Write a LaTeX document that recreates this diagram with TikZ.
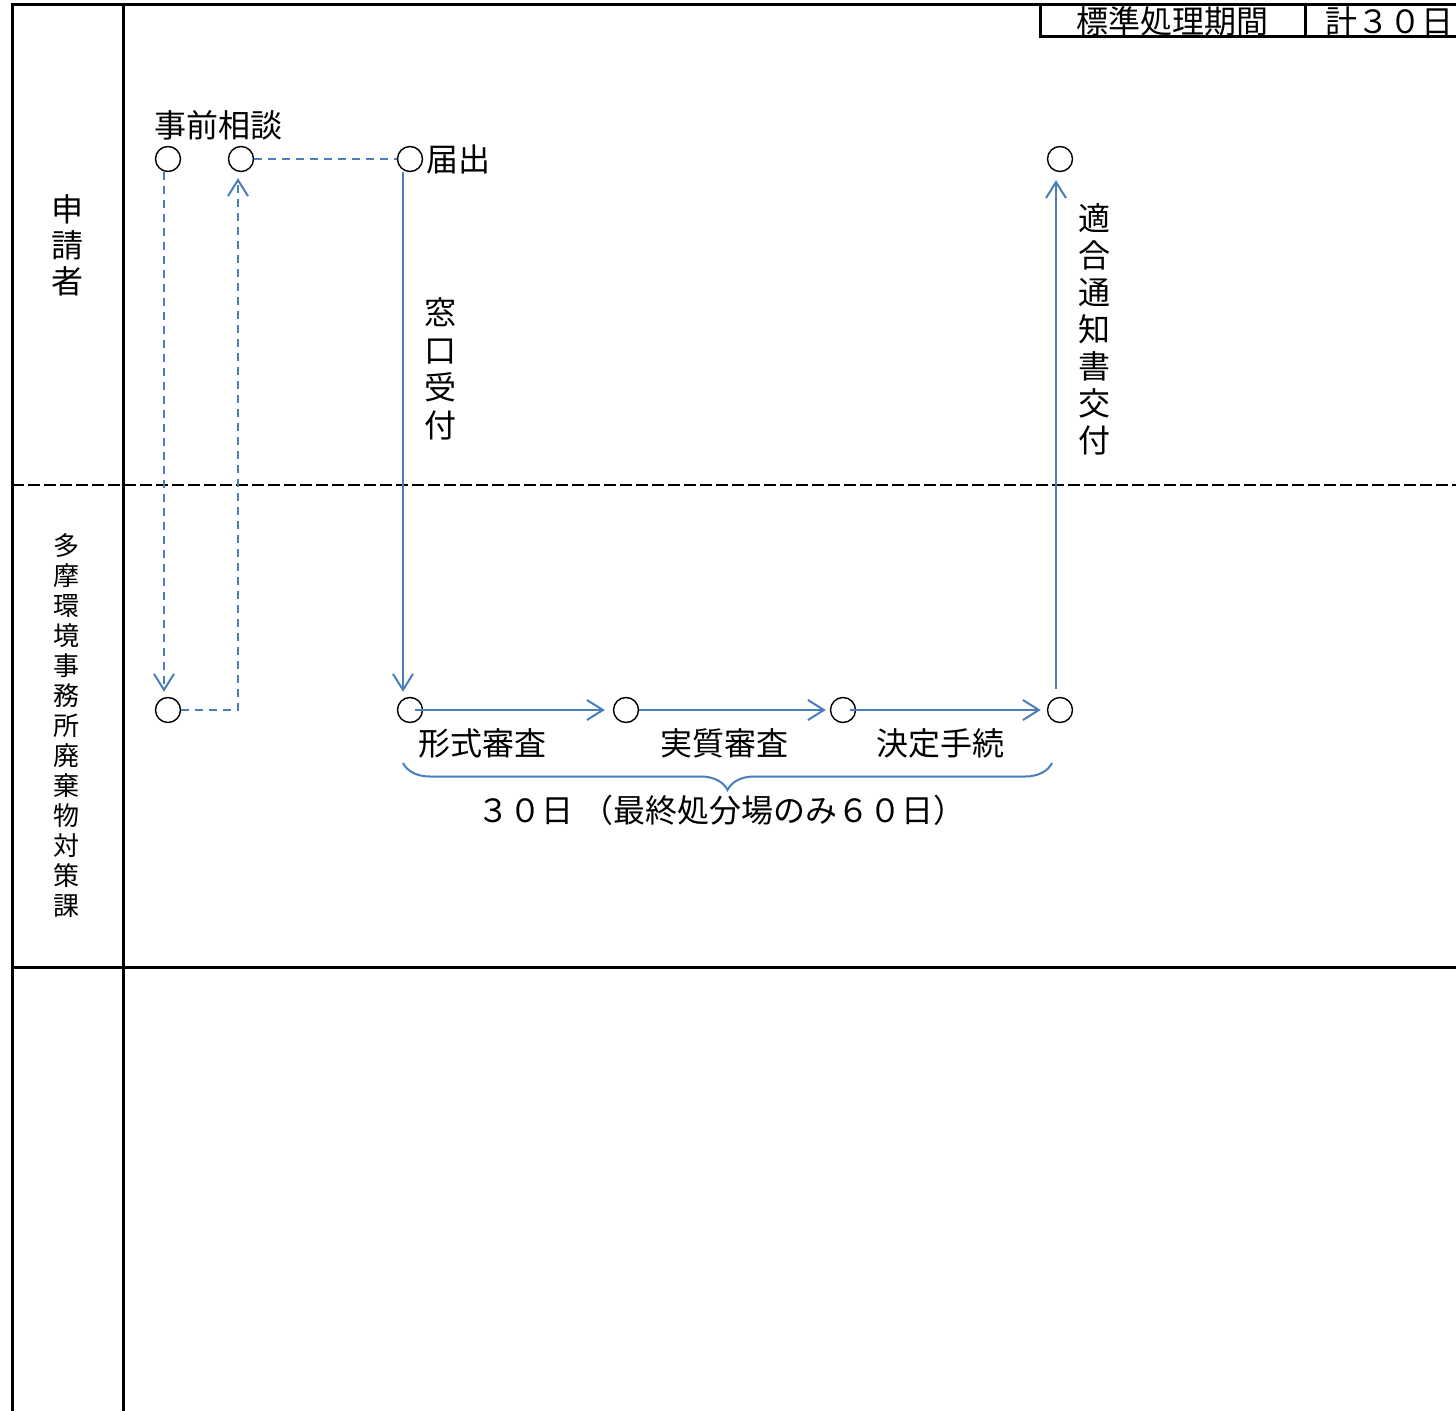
\documentclass[tikz,border=0pt]{standalone}
\usepackage{fontspec}
\newfontfamily\jp{Noto Sans CJK JP}
\usetikzlibrary{arrows.meta,decorations.pathreplacing}
\definecolor{flowblue}{RGB}{74,126,187}
\begin{document}
\begin{tikzpicture}[x=0.5pt,y=-0.5pt,
  frame/.style={line width=1.5pt,black},
  divider/.style={line width=1.2pt,black,dash pattern=on 6pt off 2pt},
  dot/.style={circle,draw=black,line width=0.7pt,minimum size=12.5pt,inner sep=0pt},
  tip/.style={-{Straight Barb[length=8pt,width=10pt]}},
  flow/.style={draw=flowblue,line width=1pt},
  dflow/.style={flow,dash pattern=on 4pt off 3pt},
  lbl/.style={inner sep=0pt,font=\jp\fontsize{16pt}{18pt}\selectfont},
  vlbl/.style={lbl,align=center},
]
\useasboundingbox (0,0) rectangle (1456,1411);
% frame
\draw[frame] (12,1411) -- (12,5) -- (1456,5);
\draw[frame] (123,5) -- (123,1411);
\draw[frame] (12,967) -- (1456,967);
\draw[divider] (12,485) -- (1456,485);
\draw[frame] (1040,5) -- (1040,37) -- (1456,37);
\draw[frame] (1305,5) -- (1305,37);
\node[lbl] (period) at (1172,21) {標準処理期間};
\node[lbl] (total) at (1389,21) {計３０日};
% lane labels
\node[vlbl] (lane1) at (67,245) {申\\請\\者};
\node[vlbl,font=\jp\fontsize{13pt}{15pt}\selectfont] (lane2) at (67,726) {多\\摩\\環\\境\\事\\務\\所\\廃\\棄\\物\\対\\策\\課};
% circles
\node[dot] (a1) at (168,159) {};
\node[dot] (a2) at (241,159) {};
\node[dot] (a3) at (410,159) {};
\node[dot] (a4) at (1060,159) {};
\node[dot] (b1) at (168,710) {};
\node[dot] (b2) at (410,710) {};
\node[dot] (b3) at (626,710) {};
\node[dot] (b4) at (843,710) {};
\node[dot] (b5) at (1060,710) {};
% labels
\node[lbl] (consult) at (218,125) {事前相談};
\node[lbl,anchor=west] (notify) at (426,159) {届出};
\node[vlbl,font=\jp\fontsize{16pt}{18.75pt}\selectfont] (window) at (440,369) {窓\\口\\受\\付};
\node[vlbl,font=\jp\fontsize{16pt}{18.5pt}\selectfont] (issue) at (1094,329) {適\\合\\通\\知\\書\\交\\付};
\node[lbl] (s1) at (482,743) {形式審査};
\node[lbl] (s2) at (724,743) {実質審査};
\node[lbl] (s3) at (940,743) {決定手続};
% connectors
\draw[dflow,tip,shorten >=2.5pt] ([xshift=-2pt]a1.south) -- ([xshift=-2pt]b1.north);
\draw[dflow,tip,shorten >=3pt] (b1.east) -| ([xshift=-1.5pt]a2.south);
\draw[dflow] (a2.east) -- (a3.west);
\draw[flow,tip,shorten >=2.5pt] ([xshift=-3.5pt]a3.south) -- ([xshift=-3.5pt]b2.north);
\draw[flow,tip,shorten >=4pt] ([xshift=2.5pt]b2.center) -- (b3.west);
\draw[flow,tip,shorten >=2pt] (b3.east) -- (b4.west);
\draw[flow,tip,shorten >=3pt] ([xshift=3.5pt]b4.center) -- (b5.west);
\draw[flow,tip,shorten <=4pt,shorten >=4pt] ([xshift=-2pt]b5.north) -- ([xshift=-2pt]a4.south);
% brace
\coordinate (bl) at (403,763);
\coordinate (br) at (1052,763);
\draw[flow,decorate,decoration={brace,mirror,amplitude=13.5pt}] (bl) -- (br);
\node[lbl] (days) at (721,810) {３０日\kern4pt（最終処分場のみ６０日）};
\end{tikzpicture}
\end{document}
